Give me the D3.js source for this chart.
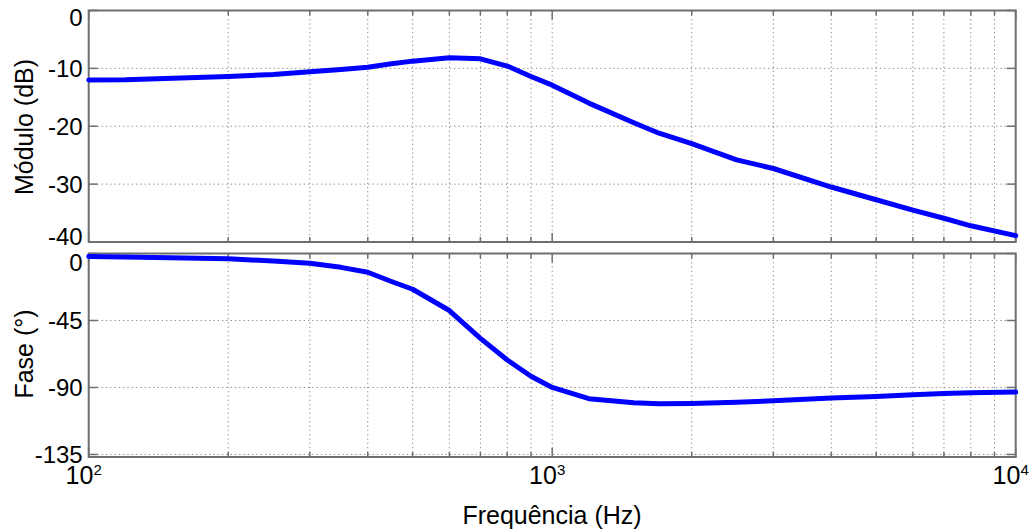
<!DOCTYPE html>
<html>
<head>
<meta charset="utf-8">
<script src="https://cdn.jsdelivr.net/npm/d3@7"></script>
<style>
  body { margin: 0; background: #fff; }
  svg text { font-family: "Liberation Sans", Arial, Helvetica, sans-serif; fill: #000; }
</style>
</head>
<body>
<svg id="chart" width="1035" height="532"></svg>
<script>
// Frequency response samples (Bode plot)
const freqHz = [100, 120, 200, 250, 300, 350, 400, 450, 500, 600, 700, 800, 900, 1000,
                1200, 1500, 1700, 2000, 2500, 3000, 4000, 5000, 6000, 7000, 8000, 10000];
const magnitudeDb = [-12.0, -11.95, -11.4, -11.05, -10.6, -10.2, -9.8, -9.2, -8.75, -8.15, -8.35,
                     -9.6, -11.4, -12.9, -16.0, -19.4, -21.2, -23.0, -25.8, -27.3, -30.5,
                     -32.7, -34.5, -35.9, -37.2, -38.9];
const phaseDeg = [-2.0, -2.3, -3.6, -5.0, -6.5, -9.3, -12.6, -18.8, -24.0, -38.3, -57.0,
                  -71.5, -82.5, -90.0, -97.5, -100.3, -101.0, -100.7, -100.0, -98.9, -97.1,
                  -96.0, -94.9, -94.0, -93.6, -93.1];

const magTicks = [0, -10, -20, -30, -40];
const phaseTicks = [0, -45, -90, -135];
const decadeTicks = [100, 1000, 10000];
const decadeExponents = ["2", "3", "4"];

const magTitle = "Módulo (dB)";
const phaseTitle = "Fase (°)";
const freqTitle = "Frequência (Hz)";

// ---- layout ----
const left = 88.7, right = 1015.7;
const svg = d3.select("#chart");

const x = d3.scaleLog().domain([100, 10000]).range([left, right]);
const allFreqTicks = x.ticks(); // 100, 200, ... 900, 1000, 2000, ... 10000

const panels = [
  { top: 10.5, bottom: 242, y: d3.scaleLinear().domain([-40, 0]).range([242, 10.5]),
    ticks: magTicks, values: magnitudeDb, title: magTitle, titleY: 127, topShift: 7, bottomShift: -6 },
  { top: 253.5, bottom: 457, y: d3.scaleLinear().domain([-136.7, 0]).range([457, 253.5]),
    ticks: phaseTicks, values: phaseDeg, title: phaseTitle, titleY: 354, topShift: 8.5, bottomShift: -6 }
];

const axisColor = "#6f6f6f";
const gridColor = "#8a8a8a";

panels.forEach((p) => {
  const g = svg.append("g");
  const [dMin, dMax] = p.y.domain();

  // dotted grid
  g.selectAll("line.vgrid")
    .data(allFreqTicks.filter(f => f > 100 && f < 10000))
    .join("line")
    .attr("x1", d => x(d)).attr("x2", d => x(d))
    .attr("y1", p.top).attr("y2", p.bottom)
    .attr("stroke", gridColor).attr("stroke-width", 1)
    .attr("stroke-dasharray", "1.3,3");

  g.selectAll("line.hgrid")
    .data(p.ticks.filter(v => v > dMin && v < dMax))
    .join("line")
    .attr("x1", left).attr("x2", right)
    .attr("y1", d => p.y(d)).attr("y2", d => p.y(d))
    .attr("stroke", gridColor).attr("stroke-width", 1)
    .attr("stroke-dasharray", "1.3,3");

  // tick marks on all four sides
  const yt = g.append("g");
  p.ticks.forEach(v => {
    const yy = p.y(v);
    yt.append("line").attr("x1", left).attr("x2", left + 9).attr("y1", yy).attr("y2", yy);
    yt.append("line").attr("x1", right - 9).attr("x2", right).attr("y1", yy).attr("y2", yy);
  });
  allFreqTicks.forEach(f => {
    const xx = x(f);
    const len = decadeTicks.includes(f) ? 9 : 5;
    yt.append("line").attr("x1", xx).attr("x2", xx).attr("y1", p.top).attr("y2", p.top + len);
    yt.append("line").attr("x1", xx).attr("x2", xx).attr("y1", p.bottom).attr("y2", p.bottom - len);
  });
  yt.selectAll("line").attr("stroke", axisColor).attr("stroke-width", 1.5);

  // frame
  g.append("rect")
    .attr("x", left).attr("y", p.top)
    .attr("width", right - left).attr("height", p.bottom - p.top)
    .attr("fill", "none").attr("stroke", axisColor).attr("stroke-width", 2);

  // y tick labels
  g.selectAll("text.ytick")
    .data(p.ticks)
    .join("text")
    .attr("x", left - 6)
    .attr("y", d => {
      let yy = p.y(d);
      if (d === dMax) yy += p.topShift;
      if (d === dMin) yy += p.bottomShift;
      return yy;
    })
    .attr("text-anchor", "end")
    .attr("dominant-baseline", "central")
    .attr("font-size", 24)
    .text(d => d);

  // y title
  g.append("text")
    .attr("transform", `translate(24,${p.titleY}) rotate(-90)`)
    .attr("text-anchor", "middle")
    .attr("dominant-baseline", "central")
    .attr("font-size", 25)
    .text(p.title);

  // response curve
  const line = d3.line()
    .x((d, i) => x(freqHz[i]))
    .y(d => p.y(d));
  g.append("path")
    .attr("d", line(p.values))
    .attr("fill", "none")
    .attr("stroke", "#0000ff")
    .attr("stroke-width", 5)
    .attr("stroke-linejoin", "round")
    .attr("stroke-linecap", "round");
});

// decade labels under the lower panel
const xl = svg.append("g");
decadeTicks.forEach((f, i) => {
  const t = xl.append("text")
    .attr("x", x(f) - 5)
    .attr("y", 484)
    .attr("text-anchor", "middle")
    .attr("font-size", 25);
  t.append("tspan").text("10");
  t.append("tspan").attr("font-size", 15).attr("dy", -9).text(decadeExponents[i]);
});

svg.append("text")
  .attr("x", 552)
  .attr("y", 524)
  .attr("text-anchor", "middle")
  .attr("font-size", 25)
  .text(freqTitle);
</script>
</body>
</html>
